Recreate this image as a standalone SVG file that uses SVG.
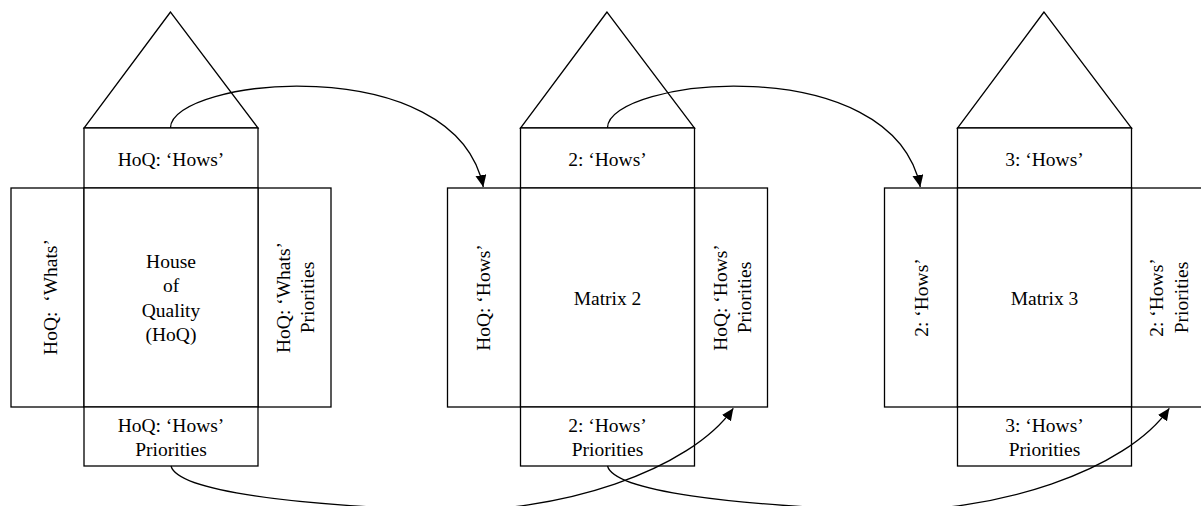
<svg xmlns="http://www.w3.org/2000/svg" width="1201" height="506" viewBox="0 0 1201 506">
<style>
.s{fill:#fff;stroke:#000;stroke-width:1.3}
.t{font-family:"Liberation Serif","Times New Roman",serif;font-size:19.5px;fill:#000;text-anchor:middle}
.c{fill:none;stroke:#000;stroke-width:1.3}
</style>
<defs>
<marker id="ah" markerUnits="userSpaceOnUse" markerWidth="13" markerHeight="12" refX="12" refY="5.5" orient="auto">
<path d="M0,0 L12,5.5 L0,11 z" fill="#000"/>
</marker>
</defs>
<rect width="1201" height="506" fill="#fff"/>

<g id="house1">
<polygon class="s" points="170.5,12 84,128 258,128"/>
<rect class="s" x="84" y="128" width="174" height="60"/>
<rect class="s" x="11" y="188" width="73" height="219"/>
<rect class="s" x="258" y="188" width="73" height="219"/>
<rect class="s" x="84" y="188" width="174" height="219"/>
<rect class="s" x="84" y="407" width="174" height="59"/>
<text class="t" x="171" y="166">HoQ: ‘Hows’</text>
<text class="t" x="171" y="268">House</text>
<text class="t" x="171" y="292.3">of</text>
<text class="t" x="171" y="316.6">Quality</text>
<text class="t" x="171" y="341">(HoQ)</text>
<text class="t" transform="translate(56.5,297) rotate(-90)">HoQ:&#160; ‘Whats’</text>
<text class="t" transform="translate(289.5,297.5) rotate(-90)">HoQ: ‘Whats’</text>
<text class="t" transform="translate(313.5,297.5) rotate(-90)">Priorities</text>
<text class="t" x="171" y="431.7">HoQ: ‘Hows’</text>
<text class="t" x="171" y="455.7">Priorities</text>
</g>

<g id="house2" transform="translate(436.5,0)">
<polygon class="s" points="170.5,12 84,128 258,128"/>
<rect class="s" x="84" y="128" width="174" height="60"/>
<rect class="s" x="11" y="188" width="73" height="219"/>
<rect class="s" x="258" y="188" width="73" height="219"/>
<rect class="s" x="84" y="188" width="174" height="219"/>
<rect class="s" x="84" y="407" width="174" height="59"/>
<text class="t" x="171" y="166">2: ‘Hows’</text>
<text class="t" x="171" y="305">Matrix 2</text>
<text class="t" transform="translate(53.5,297.5) rotate(-90)">HoQ: ‘Hows’</text>
<text class="t" transform="translate(290,297.5) rotate(-90)">HoQ: ‘Hows’</text>
<text class="t" transform="translate(314,297.5) rotate(-90)">Priorities</text>
<text class="t" x="171" y="431.7">2: ‘Hows’</text>
<text class="t" x="171" y="455.7">Priorities</text>
</g>

<g id="house3" transform="translate(873.5,0)">
<polygon class="s" points="170.5,12 84,128 258,128"/>
<rect class="s" x="84" y="128" width="174" height="60"/>
<rect class="s" x="11" y="188" width="73" height="219"/>
<rect class="s" x="258" y="188" width="73" height="219"/>
<rect class="s" x="84" y="188" width="174" height="219"/>
<rect class="s" x="84" y="407" width="174" height="59"/>
<text class="t" x="171" y="166">3: ‘Hows’</text>
<text class="t" x="171" y="305">Matrix 3</text>
<text class="t" transform="translate(54.5,297.5) rotate(-90)">2: ‘Hows’</text>
<text class="t" transform="translate(289.5,297.5) rotate(-90)">2: ‘Hows’</text>
<text class="t" transform="translate(314.5,297.5) rotate(-90)">Priorities</text>
<text class="t" x="171" y="431.7">3: ‘Hows’</text>
<text class="t" x="171" y="455.7">Priorities</text>
</g>

<g id="connectors">
<path class="c" marker-end="url(#ah)" d="M170.5,128 C170,78 455,48 483.3,187"/>
<path class="c" marker-end="url(#ah)" d="M607.5,128 C607,78 892,48 920.3,187"/>
<path class="c" marker-end="url(#ah)" d="M171,466 C178,492 300,505 435,510 C560,515 690,470 733.3,408.3"/>
<path class="c" marker-end="url(#ah)" d="M607.5,466 C614.5,492 736.5,505 871.5,510 C996.5,515 1126.5,470 1169.3,408.3"/>
</g>
</svg>
